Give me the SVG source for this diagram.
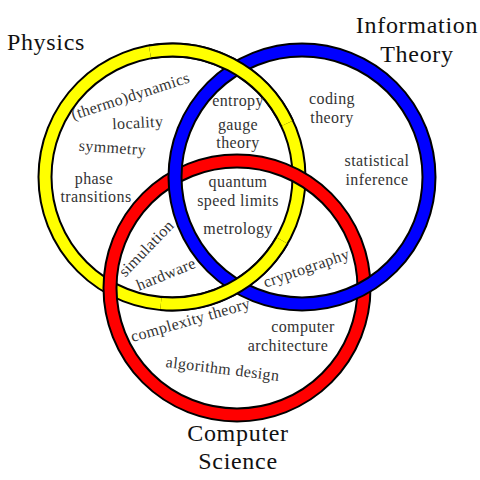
<svg xmlns="http://www.w3.org/2000/svg" width="480" height="480" viewBox="0 0 480 480">
<style>
.edge{fill:none;stroke:#000;stroke-width:15}
.y{fill:none;stroke:#ffff00;stroke-width:11}
.r{fill:none;stroke:#ff0000;stroke-width:11}
.b{fill:none;stroke:#0000ff;stroke-width:11}
.title{font-family:"Liberation Serif","DejaVu Serif",serif;font-size:24px;fill:#111;text-anchor:middle;letter-spacing:0.7px}
.lbl{font-family:"Liberation Serif","DejaVu Serif",serif;font-size:16px;fill:#333;text-anchor:middle;letter-spacing:0.4px}
</style>
<rect width="480" height="480" fill="#fff"/>
<g id="ring-physics">
<circle class="edge" cx="172" cy="177" r="127"/>
<circle class="y" cx="172" cy="177" r="127"/>
</g>
<g id="ring-cs">
<circle class="edge" cx="237" cy="288" r="127"/>
<circle class="r" cx="237" cy="288" r="127"/>
</g>
<g id="ring-info">
<circle class="edge" cx="302" cy="177" r="127"/>
<circle class="b" cx="302" cy="177" r="127"/>
</g>
<g id="ring-physics-over">
<path class="edge" d="M149.95 51.93 A127 127 0 0 1 287.1 123.33"/>
<path class="y" d="M149.95 51.93 A127 127 0 0 1 287.1 123.33"/>
<path class="edge" d="M282 240.5 A127 127 0 0 1 160.93 303.5"/>
<path class="y" d="M282 240.5 A127 127 0 0 1 160.93 303.5"/>
</g>
<g id="titles">
<text class="title" x="46" y="50">Physics</text>
<text class="title" x="417" y="33">Information</text>
<text class="title" x="417" y="62">Theory</text>
<text class="title" x="238" y="441">Computer</text>
<text class="title" x="238" y="469">Science</text>
</g>
<g id="labels">
<text class="lbl" transform="translate(132,101) rotate(-18)">(thermo)dynamics</text>
<text class="lbl" transform="translate(138,128) rotate(-3)">locality</text>
<text class="lbl" transform="translate(112,153) rotate(4)">symmetry</text>
<text class="lbl" x="94" y="184">phase</text>
<text class="lbl" x="96" y="202">transitions</text>
<text class="lbl" x="238" y="106">entropy</text>
<text class="lbl" x="238" y="130">gauge</text>
<text class="lbl" x="238" y="148">theory</text>
<text class="lbl" x="332" y="104">coding</text>
<text class="lbl" x="332" y="123">theory</text>
<text class="lbl" x="377" y="166">statistical</text>
<text class="lbl" x="377" y="185">inference</text>
<text class="lbl" x="238" y="187">quantum</text>
<text class="lbl" x="238" y="206">speed limits</text>
<text class="lbl" x="238" y="234">metrology</text>
<text class="lbl" transform="translate(150,252) rotate(-46)">simulation</text>
<text class="lbl" transform="translate(168,279) rotate(-22)">hardware</text>
<text class="lbl" transform="translate(308,273) rotate(-19)">cryptography</text>
<text class="lbl" transform="translate(192,325) rotate(-16)">complexity theory</text>
<text class="lbl" x="303" y="332">computer</text>
<text class="lbl" x="288" y="351">architecture</text>
<text class="lbl" transform="translate(222,374) rotate(7)">algorithm design</text>
</g>
</svg>
